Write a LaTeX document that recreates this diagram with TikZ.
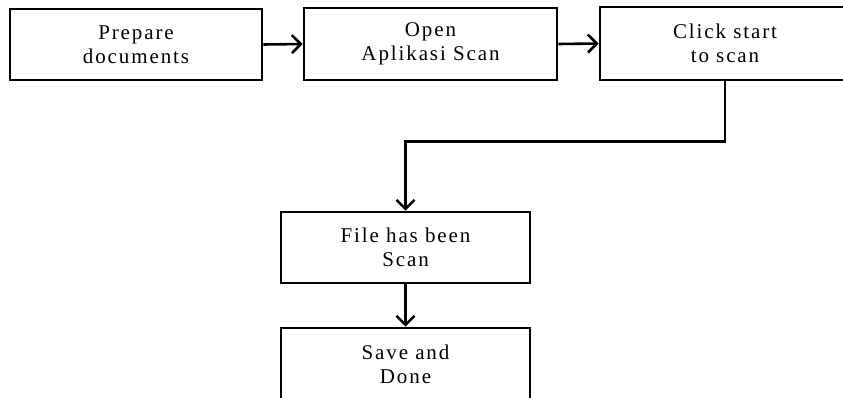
\documentclass[tikz,border=0pt]{standalone}
\usepackage{fontspec}
\setmainfont{Liberation Serif}
\newfontfamily\boxfont[LetterSpace=9]{Liberation Serif}
\usetikzlibrary{arrows.meta}
\begin{document}
\begin{tikzpicture}[x=1pt,y=1pt,
  stepbox/.style={draw=black, line width=2.6pt, rectangle, align=center,
    inner sep=0pt, font=\boxfont\fontsize{21}{24}\selectfont},
  conn/.style={draw=black, line width=2.6pt,
    -{Straight Barb[length=9pt,width=18pt,line width=2.6pt]}}]
\useasboundingbox (0,0) rectangle (843,-398);
\clip (0,0) rectangle (843,-398);
\node[stepbox, minimum width=252, minimum height=71] (b1) at (136,-44.5) {Prepare\\documents};
\node[stepbox, minimum width=253, minimum height=72] (b2) at (430.5,-44) {Open\\Aplikasi Scan};
\node[stepbox, minimum width=250, minimum height=73] (b3) at (725,-43.5) {Click start\\to scan};
\node[stepbox, minimum width=249, minimum height=71] (b4) at (405.5,-247.5) {File has been\\Scan};
\node[stepbox, minimum width=249, minimum height=72] (b5) at (405.5,-364) {Save and\\Done};
\draw[conn] (b1.east) -- (b2.west);
\draw[conn] (b2.east) -- (b3.west);
\draw[conn] (b3.south) -- ++(0,-60) -| (b4.north);
\draw[conn] (b4.south) -- (b5.north);
\end{tikzpicture}
\end{document}
